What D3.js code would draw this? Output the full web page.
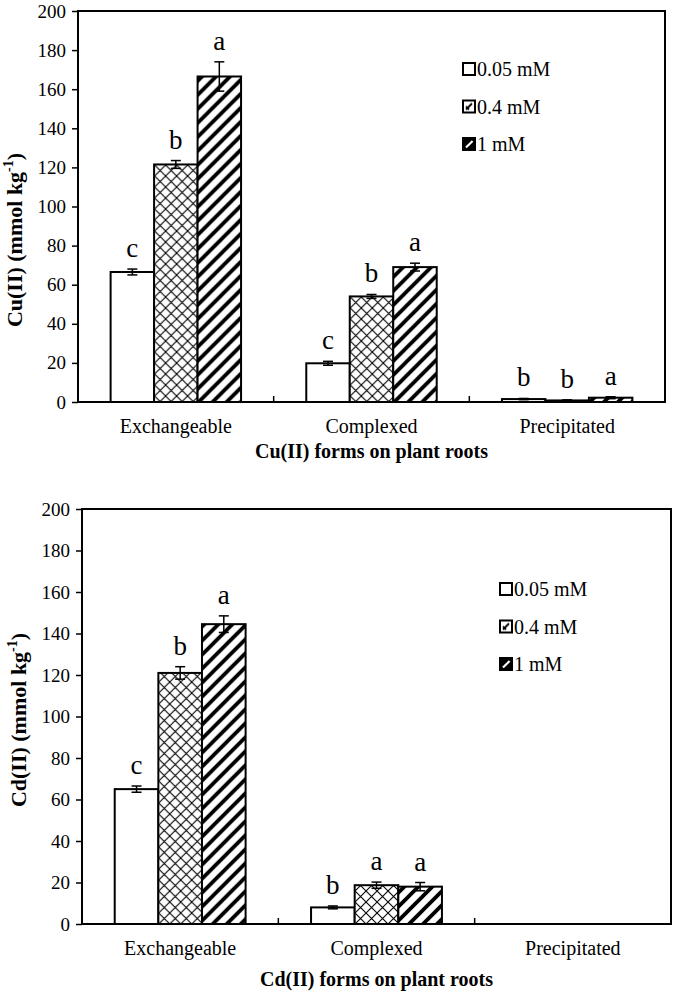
<!DOCTYPE html>
<html>
<head>
<meta charset="utf-8">
<script src="https://cdn.jsdelivr.net/npm/d3@7"></script>
<style>
  body { margin: 0; background: #fff; }
  svg text { font-family: "Liberation Serif", "Times New Roman", serif; fill: #000; }
</style>
</head>
<body>
<div id="chart"></div>
<script>
// Categories and series
const categories = ["Exchangeable", "Complexed", "Precipitated"];
const series = ["0.05 mM", "0.4 mM", "1 mM"];
const yTicks = [0, 20, 40, 60, 80, 100, 120, 140, 160, 180, 200];

// Cu(II) values per category (one value per series)
const cuMean = [[66.5, 121.5, 166.5], [19.8, 54, 69], [1.5, 0.8, 2.2]];
const cuErr = [[1.5, 2, 7.5], [1, 1, 2], [0.3, 0.3, 0.5]];
const cuLetters = [["c", "b", "a"], ["c", "b", "a"], ["b", "b", "a"]];

// Cd(II) values per category
const cdMean = [[65, 121, 144.5], [8, 18.7, 18], [0, 0, 0]];
const cdErr = [[1.5, 3, 4], [0.7, 1.5, 2], [0, 0, 0]];
const cdLetters = [["c", "b", "a"], ["b", "a", "a"], ["", "", ""]];

const W = 675, H = 998;

const svg = d3.select("#chart")
    .append("svg")
    .attr("width", W)
    .attr("height", H);

// Fill patterns
const defs = svg.append("defs");

const cross = defs.append("pattern")
    .attr("id", "cross")
    .attr("patternUnits", "userSpaceOnUse")
    .attr("width", 11).attr("height", 11);
cross.append("rect").attr("width", 11).attr("height", 11).attr("fill", "#fff");
cross.append("path")
    .attr("d", "M0,0L11,11M0,11L11,0")
    .attr("stroke", "#000").attr("stroke-width", 1.1);

const stripe = defs.append("pattern")
    .attr("id", "stripe")
    .attr("patternUnits", "userSpaceOnUse")
    .attr("width", 14).attr("height", 14);
stripe.append("rect").attr("width", 14).attr("height", 14).attr("fill", "#fff");
stripe.append("path")
    .attr("d", "M-3.5,3.5l7,-7M0,14L14,0M10.5,17.5l7,-7")
    .attr("stroke", "#000").attr("stroke-width", 3.8);

// Small legend swatches
const legCross = defs.append("pattern")
    .attr("id", "legCross")
    .attr("patternContentUnits", "objectBoundingBox")
    .attr("width", 1).attr("height", 1);
legCross.append("rect").attr("width", 1).attr("height", 1).attr("fill", "#fff");
legCross.append("path")
    .attr("d", "M0.25,0.75L0.75,0.25M0.25,0.5L0.5,0.75")
    .attr("stroke", "#000").attr("stroke-width", 0.15).attr("fill", "none");

const legStripe = defs.append("pattern")
    .attr("id", "legStripe")
    .attr("patternContentUnits", "objectBoundingBox")
    .attr("width", 1).attr("height", 1);
legStripe.append("rect").attr("width", 1).attr("height", 1).attr("fill", "#000");
legStripe.append("path")
    .attr("d", "M0.25,0.8L0.8,0.25")
    .attr("stroke", "#fff").attr("stroke-width", 0.18);

const fills = ["#fff", "url(#cross)", "url(#stripe)"];
const legendFills = ["#fff", "url(#legCross)", "url(#legStripe)"];

function drawPanel(opts) {
    const { left, right, top, bottom, means, errs, letters, yLabel, yLabelY, xTitle, xTitleDy, legendX, legendY } = opts;
    const g = svg.append("g");

    const x0 = d3.scaleBand()
        .domain(categories)
        .range([left, right])
        .paddingInner(1 / 3)
        .paddingOuter(1 / 6);

    const x1 = d3.scaleBand()
        .domain(series)
        .range([0, x0.bandwidth()]);

    const y = d3.scaleLinear()
        .domain([0, 200])
        .range([bottom, top]);

    // Bars
    categories.forEach((cat, ci) => {
        const grp = g.append("g").attr("transform", `translate(${x0(cat)},0)`);
        const rows = series.map((s, si) => ({
            s, si, v: means[ci][si], e: errs[ci][si], l: letters[ci][si]
        }));

        grp.selectAll("rect")
            .data(rows.filter(d => d.v > 0))
            .join("rect")
            .attr("x", d => x1(d.s))
            .attr("y", d => y(d.v))
            .attr("width", x1.bandwidth())
            .attr("height", d => y(0) - y(d.v))
            .attr("fill", d => fills[d.si])
            .attr("stroke", "#000")
            .attr("stroke-width", 2);

        // Error bars
        const eb = grp.selectAll("g.err")
            .data(rows.filter(d => d.e > 0))
            .join("g")
            .attr("class", "err");
        eb.append("line")
            .attr("x1", d => x1(d.s) + x1.bandwidth() / 2)
            .attr("x2", d => x1(d.s) + x1.bandwidth() / 2)
            .attr("y1", d => y(d.v - d.e))
            .attr("y2", d => y(d.v + d.e))
            .attr("stroke", "#000").attr("stroke-width", 1.5);
        eb.selectAll("line.cap")
            .data(d => [{ d, v: d.v - d.e }, { d, v: d.v + d.e }])
            .join("line")
            .attr("class", "cap")
            .attr("x1", c => x1(c.d.s) + x1.bandwidth() / 2 - 5)
            .attr("x2", c => x1(c.d.s) + x1.bandwidth() / 2 + 5)
            .attr("y1", c => y(c.v))
            .attr("y2", c => y(c.v))
            .attr("stroke", "#000").attr("stroke-width", 1.5);

        // Significance letters
        grp.selectAll("text.sig")
            .data(rows.filter(d => d.l))
            .join("text")
            .attr("class", "sig")
            .attr("x", d => x1(d.s) + x1.bandwidth() / 2)
            .attr("y", d => y(d.v + d.e) - 12)
            .attr("text-anchor", "middle")
            .attr("font-size", 27)
            .text(d => d.l);
    });

    // Frame
    g.append("rect")
        .attr("x", left).attr("y", top)
        .attr("width", right - left).attr("height", bottom - top)
        .attr("fill", "none")
        .attr("stroke", "#000").attr("stroke-width", 2);

    // Y axis
    const yAxis = g.append("g")
        .attr("transform", `translate(${left},0)`)
        .call(d3.axisLeft(y).tickValues(yTicks).tickSize(6).tickPadding(6));
    yAxis.select(".domain").remove();
    yAxis.selectAll(".tick line").attr("stroke", "#000").attr("stroke-width", 1.5);
    yAxis.selectAll(".tick text")
        .attr("font-family", "Liberation Serif")
        .attr("font-size", 19);

    // Category separators on x axis
    const step = x0.step();
    g.selectAll("line.sep")
        .data([1, 2])
        .join("line")
        .attr("class", "sep")
        .attr("x1", d => left + step * d)
        .attr("x2", d => left + step * d)
        .attr("y1", bottom)
        .attr("y2", bottom - 6)
        .attr("stroke", "#000").attr("stroke-width", 1.5);

    // Category labels
    g.selectAll("text.cat")
        .data(categories)
        .join("text")
        .attr("class", "cat")
        .attr("x", d => x0(d) + x0.bandwidth() / 2)
        .attr("y", bottom + 31)
        .attr("text-anchor", "middle")
        .attr("font-size", 20)
        .text(d => d);

    // X title
    g.append("text")
        .attr("x", (left + right) / 2)
        .attr("y", bottom + xTitleDy)
        .attr("text-anchor", "middle")
        .attr("font-size", 20)
        .attr("font-weight", "bold")
        .text(xTitle);

    // Y title
    const yt = g.append("text")
        .attr("transform", `translate(${left - 56},${yLabelY}) rotate(-90)`)
        .attr("text-anchor", "middle")
        .attr("font-size", 22)
        .attr("font-weight", "bold");
    yt.append("tspan").text(yLabel + " (mmol kg");
    yt.append("tspan").attr("dy", -9).attr("font-size", 14).text("-1");
    yt.append("tspan").attr("dy", 9).text(")");

    // Legend
    const leg = g.selectAll("g.leg")
        .data(series)
        .join("g")
        .attr("class", "leg")
        .attr("transform", (d, i) => `translate(${legendX},${legendY + i * 37.5})`);
    leg.append("rect")
        .attr("x", 0).attr("y", -6)
        .attr("width", 12).attr("height", 12)
        .attr("fill", (d, i) => legendFills[i])
        .attr("stroke", "#000").attr("stroke-width", 2);
    leg.append("text")
        .attr("x", 14)
        .attr("y", 7)
        .attr("font-size", 20)
        .text(d => d);
}

drawPanel({
    left: 78, right: 665, top: 11, bottom: 402,
    means: cuMean, errs: cuErr, letters: cuLetters,
    yLabel: "Cu(II)", yLabelY: 240,
    xTitle: "Cu(II) forms on plant roots", xTitleDy: 56,
    legendX: 463, legendY: 69
});

drawPanel({
    left: 82, right: 671, top: 509, bottom: 924,
    means: cdMean, errs: cdErr, letters: cdLetters,
    yLabel: "Cd(II)", yLabelY: 720,
    xTitle: "Cd(II) forms on plant roots", xTitleDy: 62,
    legendX: 500, legendY: 589
});
</script>
</body>
</html>
